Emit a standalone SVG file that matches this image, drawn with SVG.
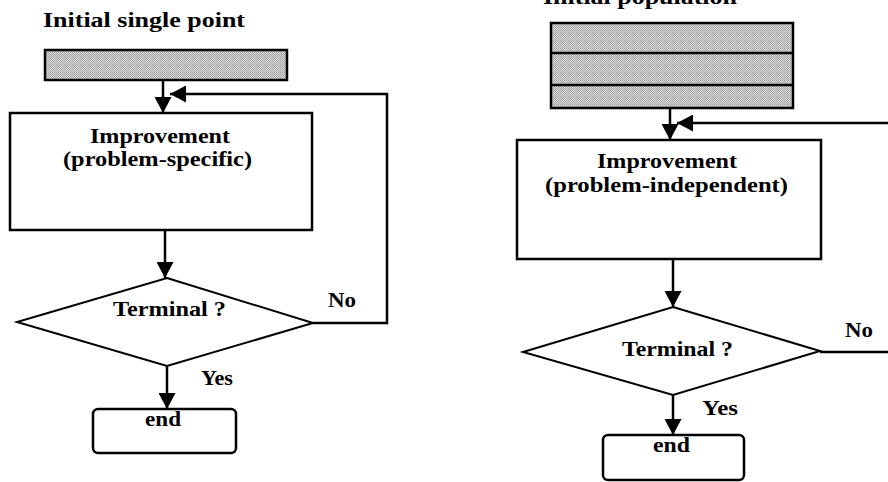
<svg xmlns="http://www.w3.org/2000/svg" width="888" height="482" viewBox="0 0 888 482">
<style>
  .t { font-family: "Liberation Serif", "Times New Roman", serif; font-weight: bold; font-size: 21px; fill: #000; }
  .box { fill: #fff; stroke: #000; stroke-width: 2.5; }
  .bar { fill: url(#stipple); stroke: #000; stroke-width: 2.5; }
  .dia { fill: #fff; stroke: #000; stroke-width: 2; }
  .ln { fill: none; stroke: #000; stroke-width: 2.5; }
  .arr { fill: none; stroke: #000; stroke-width: 2.5; marker-end: url(#ah); }
</style>
<defs>
  <pattern id="stipple" width="2" height="2" patternUnits="userSpaceOnUse">
    <rect width="2" height="2" fill="#dcdcdc"/>
    <rect width="1" height="1" fill="#9a9a9a"/>
    <rect x="1" y="1" width="1" height="1" fill="#a8a8a8"/>
  </pattern>
  <marker id="ah" markerUnits="userSpaceOnUse" viewBox="0 0 16 17" refX="16" refY="8.5" markerWidth="16" markerHeight="17" orient="auto">
    <path d="M0,0 L16,8.5 L0,17 z" fill="#000"/>
  </marker>
</defs>

<g id="connectors">
  <path class="arr" d="M163,80 V113"/>
  <path class="arr" d="M165,230 V278"/>
  <path class="arr" d="M167,366 V409"/>
  <path class="arr" d="M313,323 H387 V94 H170"/>
  <path class="arr" d="M670,108 V140"/>
  <path class="arr" d="M673,259 V307"/>
  <path class="arr" d="M673,395 V435"/>
  <path class="arr" d="M820,352 H894 V123 H677"/>
</g>

<g id="left-title">
  <text class="t" x="43" y="27" textLength="202" lengthAdjust="spacingAndGlyphs">Initial single point</text>
</g>
<g id="left-start">
  <rect class="bar" x="45" y="50" width="242" height="30"/>
</g>
<g id="left-improve">
  <rect class="box" x="10" y="113" width="302" height="117"/>
  <text class="t" x="90" y="143" textLength="140" lengthAdjust="spacingAndGlyphs">Improvement</text>
  <text class="t" x="63" y="166" textLength="189" lengthAdjust="spacingAndGlyphs">(problem-specific)</text>
</g>
<g id="left-terminal">
  <polygon class="dia" points="167,278 313,323 167,366 17,322"/>
  <text class="t" x="113" y="316" textLength="113" lengthAdjust="spacingAndGlyphs">Terminal ?</text>
</g>
<g id="left-labels">
  <text class="t" x="328" y="307" textLength="28" lengthAdjust="spacingAndGlyphs">No</text>
  <text class="t" x="201" y="385" textLength="32" lengthAdjust="spacingAndGlyphs">Yes</text>
</g>
<g id="left-end">
  <rect class="box" x="93" y="409" width="143" height="44" rx="5"/>
  <text class="t" x="145" y="426" textLength="36" lengthAdjust="spacingAndGlyphs">end</text>
</g>

<g id="right-title">
  <text class="t" x="543" y="4" textLength="194" lengthAdjust="spacingAndGlyphs">Initial population</text>
</g>
<g id="right-start">
  <rect class="bar" x="551" y="23" width="242" height="85"/>
  <line class="ln" x1="551" y1="53" x2="793" y2="53"/>
  <line class="ln" x1="551" y1="85" x2="793" y2="85"/>
</g>
<g id="right-improve">
  <rect class="box" x="517" y="140" width="304" height="119"/>
  <text class="t" x="597" y="168" textLength="140" lengthAdjust="spacingAndGlyphs">Improvement</text>
  <text class="t" x="545" y="192" textLength="243" lengthAdjust="spacingAndGlyphs">(problem-independent)</text>
</g>
<g id="right-terminal">
  <polygon class="dia" points="673,307 820,351 673,395 523,352"/>
  <text class="t" x="622" y="356" textLength="111" lengthAdjust="spacingAndGlyphs">Terminal ?</text>
</g>
<g id="right-labels">
  <text class="t" x="845" y="337" textLength="28" lengthAdjust="spacingAndGlyphs">No</text>
  <text class="t" x="702" y="415" textLength="36" lengthAdjust="spacingAndGlyphs">Yes</text>
</g>
<g id="right-end">
  <rect class="box" x="603" y="435" width="141" height="45" rx="5"/>
  <text class="t" x="653" y="452" textLength="37" lengthAdjust="spacingAndGlyphs">end</text>
</g>
</svg>
